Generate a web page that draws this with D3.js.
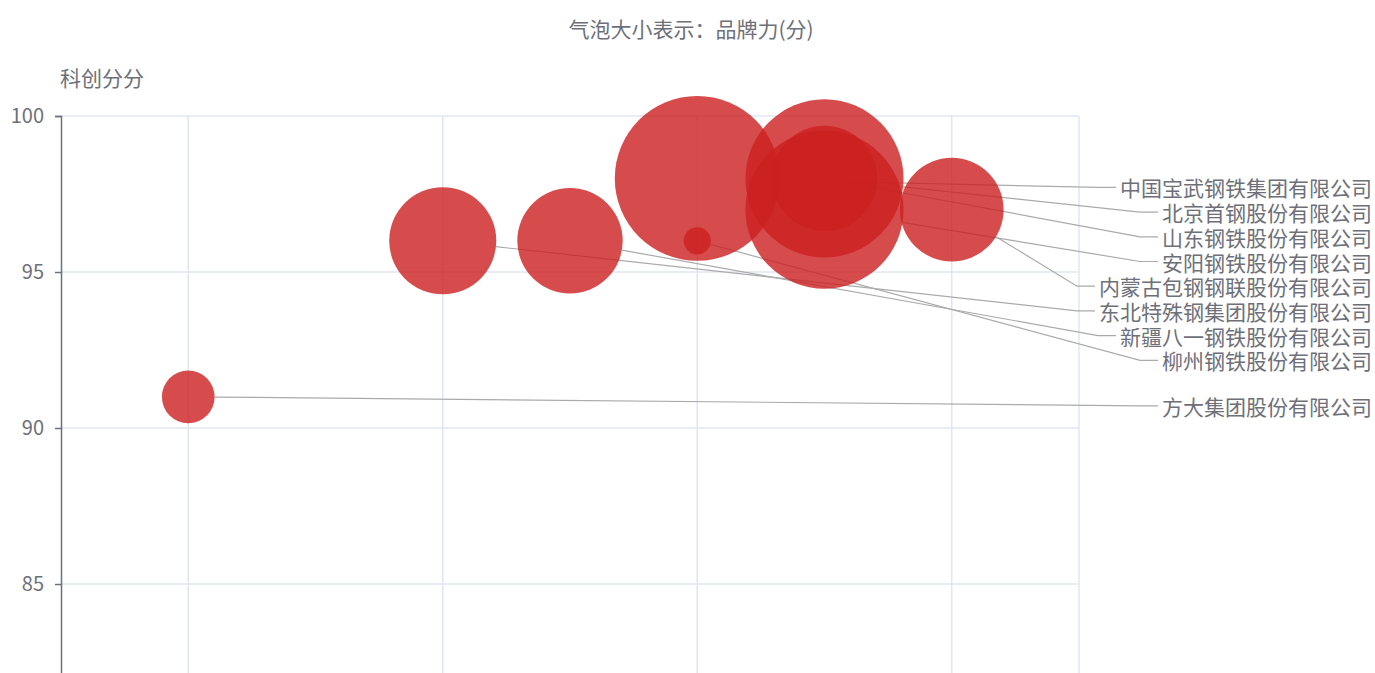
<!DOCTYPE html>
<html>
<head>
<meta charset="utf-8">
<script src="https://cdn.jsdelivr.net/npm/d3@7"></script>
<style>
  body { margin: 0; background: #fff; }
  svg { display: block; font-family: "Noto Sans CJK SC", "Noto Sans", sans-serif; }
</style>
</head>
<body>
<div class="canvas"></div>
<script>
// bubble data
const companies = ['中国宝武钢铁集团有限公司', '北京首钢股份有限公司', '山东钢铁股份有限公司', '安阳钢铁股份有限公司',
  '内蒙古包钢钢联股份有限公司', '东北特殊钢集团股份有限公司', '新疆八一钢铁股份有限公司', '柳州钢铁股份有限公司', '方大集团股份有限公司'];
const xVals = [3, 3.5, 3.5, 3.5, 4, 2, 2.5, 3, 1];
const kcScores = [98, 98, 98, 97, 97, 96, 96, 96, 91];   // 科创分
const brandScores = [97, 93, 62, 93, 61, 63, 62, 16, 31]; // 品牌力
const yTicks = [85, 90, 95, 100];
const xTicks = [1, 2, 3, 4];

const W = 1375, H = 673;
const svg = d3.select('.canvas').append('svg').attr('width', W).attr('height', H);

const x = d3.scaleLinear().domain([0.5, 4.5]).range([61, 1079]);
const y = d3.scaleLinear().domain([80, 100]).range([740, 116]);
const size = d3.scaleLinear().domain([0, 100]).range([0, 170]); // diameter

const textColor = '#6e7079';
const gridColor = '#e0e6f1';

// title
svg.append('text').attr('x', 691).attr('y', 28).attr('text-anchor', 'middle')
  .attr('dominant-baseline', 'central').attr('font-size', 21).attr('fill', textColor)
  .text('气泡大小表示：品牌力(分)');

// y axis name
svg.append('text').attr('x', 60).attr('y', 77).attr('dominant-baseline', 'central')
  .attr('font-size', 21).attr('fill', textColor).text('科创分分');

// grid lines
svg.append('g').selectAll('line').data(yTicks).join('line')
  .attr('x1', x(0.5)).attr('x2', x(4.5)).attr('y1', d => y(d)).attr('y2', d => y(d))
  .attr('stroke', gridColor).attr('stroke-width', 1.5);
svg.append('g').selectAll('line').data(xTicks.concat([4.5])).join('line')
  .attr('x1', d => x(d)).attr('x2', d => x(d)).attr('y1', y(100)).attr('y2', H)
  .attr('stroke', gridColor).attr('stroke-width', 1.5);

// y axis (x axis is below the photographed area)
const yAxis = d3.axisLeft(y).tickValues(yTicks).tickSize(6).tickPadding(11);
const gy = svg.append('g').attr('transform', `translate(${x(0.5)},0)`).call(yAxis);
gy.select('.domain').attr('stroke', textColor).attr('stroke-width', 1.5);
gy.selectAll('.tick line').attr('stroke', textColor).attr('stroke-width', 1.5);
gy.selectAll('.tick text').attr('fill', textColor).attr('font-size', 20)
  .attr('font-family', '"Noto Sans CJK SC", "Noto Sans", sans-serif');

// points
const pts = companies.map((c, i) => ({
  name: c, cx: x(xVals[i]), cy: y(kcScores[i]), r: size(brandScores[i]) / 2
}));

// label layout: push down to avoid overlap
const labelGap = 24.7, labelOffset = 9, labelRight = 1372;
const order = d3.range(pts.length).sort((a, b) => pts[a].cy - pts[b].cy || a - b);
let prev = -Infinity;
order.forEach(i => {
  let ly = Math.max(pts[i].cy + labelOffset, prev + labelGap);
  pts[i].ly = ly;
  prev = ly;
});

const labels = svg.append('g').selectAll('text').data(pts).join('text')
  .attr('x', labelRight).attr('y', d => d.ly)
  .attr('text-anchor', 'end').attr('dominant-baseline', 'central')
  .attr('font-size', 21).attr('fill', textColor).text(d => d.name);

labels.each(function(d) {
  const w = this.getComputedTextLength();
  d.lx = labelRight - w - 4;
});

// label lines (under the semi-transparent bubbles)
const lineG = svg.append('g');
pts.forEach(d => {
  const ex = d.lx - 18, ey = d.ly;
  const a = Math.atan2(ey - d.cy, ex - d.cx);
  const sx = d.cx + d.r * Math.cos(a), sy = d.cy + d.r * Math.sin(a);
  lineG.append('polyline')
    .attr('points', `${sx},${sy} ${ex},${ey} ${d.lx},${ey}`)
    .attr('fill', 'none').attr('stroke', '#aaa').attr('stroke-width', 1.2);
});

// bubbles
svg.append('g').selectAll('circle').data(pts).join('circle')
  .attr('cx', d => d.cx).attr('cy', d => d.cy).attr('r', d => d.r)
  .attr('fill', '#cc1f1f').attr('fill-opacity', 0.8);
</script>
</body>
</html>
